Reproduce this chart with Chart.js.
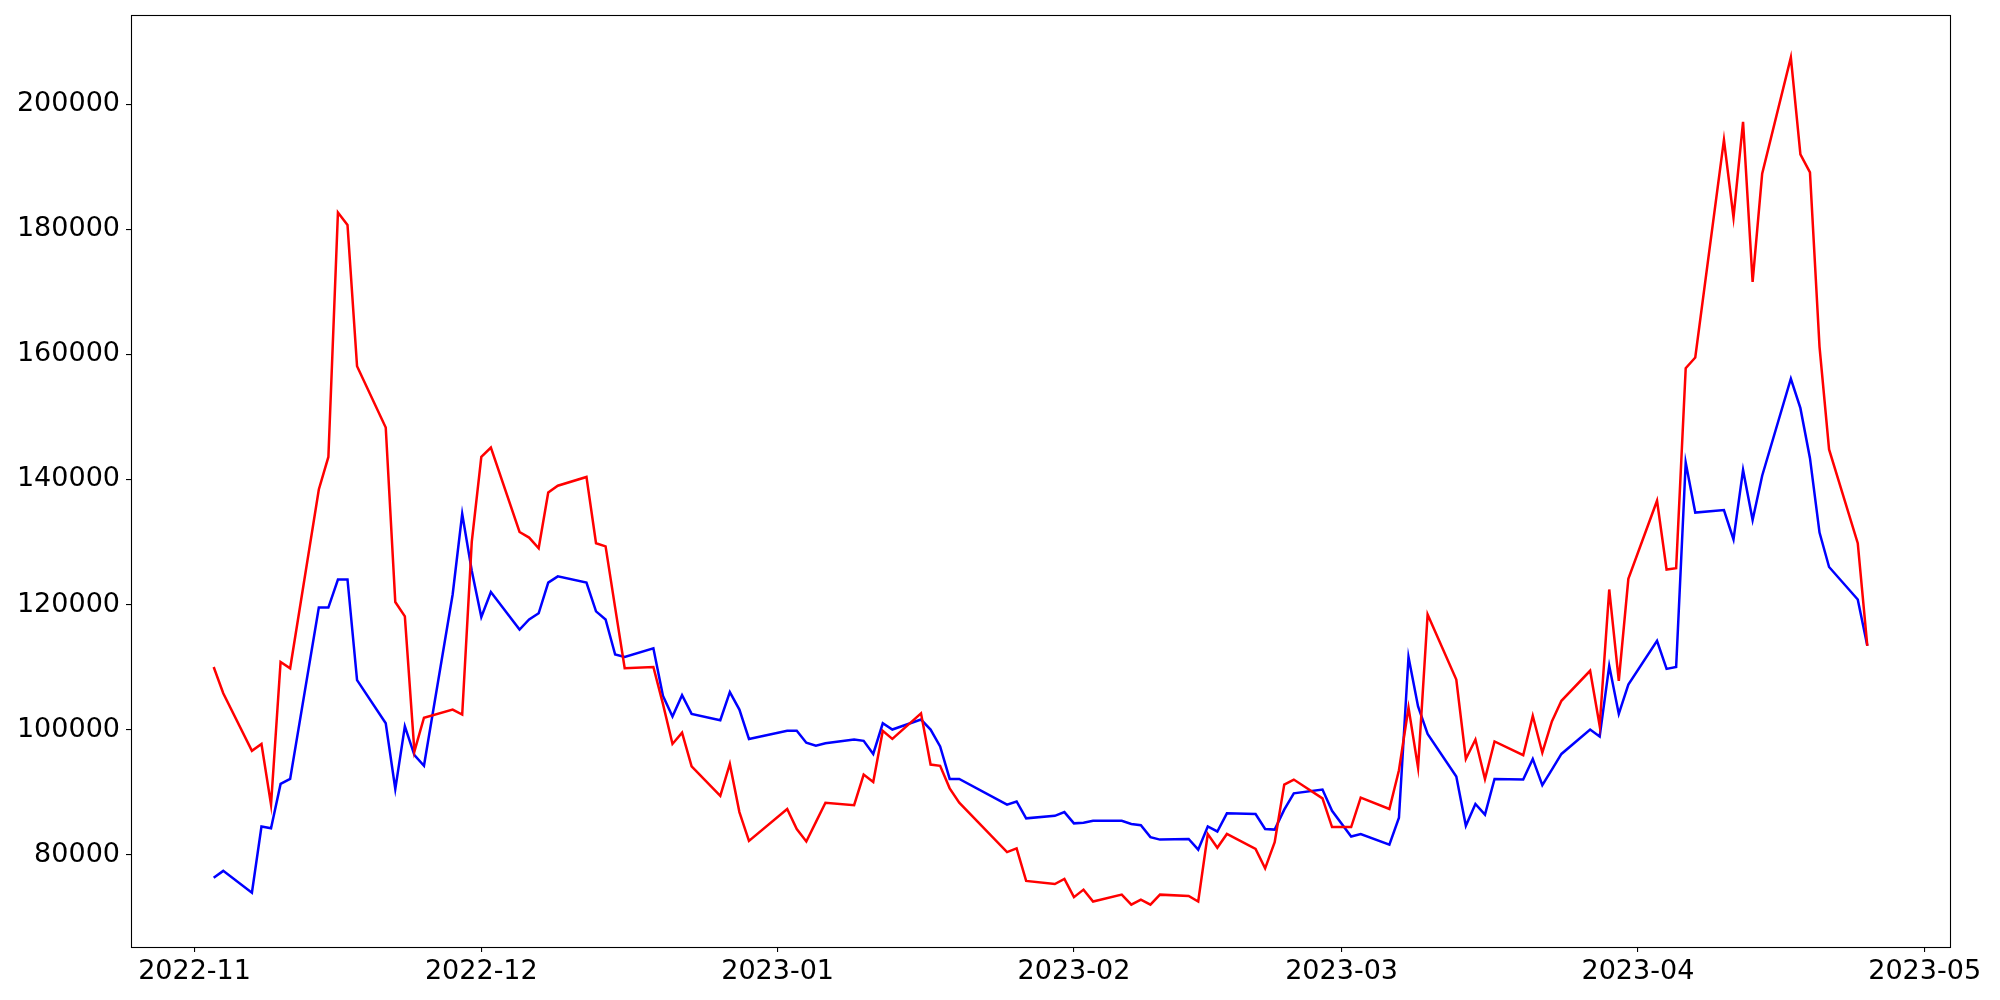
<!DOCTYPE html>
<html>
<head>
<meta charset="utf-8">
<script src="https://cdn.jsdelivr.net/npm/chart.js@4/dist/chart.umd.min.js"></script>
<style>
  html, body { margin: 0; padding: 0; background: #fff; }
  #wrap { width: 2000px; height: 1000px; }
</style>
</head>
<body>
<div id="wrap"><canvas id="chart" width="2000" height="1000"></canvas></div>
<script>
// trading days (KRX), Nov 2022 - Apr 2023
const dates = [
  '2022-11-03','2022-11-04','2022-11-07','2022-11-08','2022-11-09','2022-11-10','2022-11-11',
  '2022-11-14','2022-11-15','2022-11-16','2022-11-17','2022-11-18','2022-11-21','2022-11-22',
  '2022-11-23','2022-11-24','2022-11-25','2022-11-28','2022-11-29','2022-11-30',
  '2022-12-01','2022-12-02','2022-12-05','2022-12-06','2022-12-07','2022-12-08','2022-12-09',
  '2022-12-12','2022-12-13','2022-12-14','2022-12-15','2022-12-16','2022-12-19','2022-12-20',
  '2022-12-21','2022-12-22','2022-12-23','2022-12-26','2022-12-27','2022-12-28','2022-12-29',
  '2023-01-02','2023-01-03','2023-01-04','2023-01-05','2023-01-06','2023-01-09','2023-01-10',
  '2023-01-11','2023-01-12','2023-01-13','2023-01-16','2023-01-17','2023-01-18','2023-01-19',
  '2023-01-20','2023-01-25','2023-01-26','2023-01-27','2023-01-30','2023-01-31',
  '2023-02-01','2023-02-02','2023-02-03','2023-02-06','2023-02-07','2023-02-08','2023-02-09',
  '2023-02-10','2023-02-13','2023-02-14','2023-02-15','2023-02-16','2023-02-17','2023-02-20',
  '2023-02-21','2023-02-22','2023-02-23','2023-02-24','2023-02-27','2023-02-28',
  '2023-03-02','2023-03-03','2023-03-06','2023-03-07','2023-03-08','2023-03-09','2023-03-10',
  '2023-03-13','2023-03-14','2023-03-15','2023-03-16','2023-03-17','2023-03-20','2023-03-21',
  '2023-03-22','2023-03-23','2023-03-24','2023-03-27','2023-03-28','2023-03-29','2023-03-30',
  '2023-03-31',
  '2023-04-03','2023-04-04','2023-04-05','2023-04-06','2023-04-07','2023-04-10','2023-04-11',
  '2023-04-12','2023-04-13','2023-04-14','2023-04-17','2023-04-18','2023-04-19','2023-04-20',
  '2023-04-21','2023-04-24','2023-04-25'
]

const redValues = [
  // Nov
  110000, 105800, 96600, 97700, 88000, 110800, 109800, 138400, 143600, 182700,
  180700, 158100, 148300, 120400, 118100, 96500, 101900, 103200, 102400, 130000,
  // Dec
  143600, 145100, 131600, 130700, 129000, 137900, 139000, 140400, 129800, 129300,
  119500, 109800, 110000, 104100, 97700, 99500, 94100, 89400, 94500, 86800, 82200,
  // Jan
  87300, 84100, 82100, 85200, 88300, 87900, 92800, 91600, 99800, 98500,
  102600, 94400, 94200, 90600, 88300, 80400, 81000, 75800, 75300, 76100,
  // Feb
  73200, 74400, 72500, 73600, 72000, 72800, 72000, 73600, 73400, 72500,
  83300, 81100, 83300, 80900, 77800, 82000, 91200, 92000, 89000, 84400,
  // Mar
  84400, 89100, 87300, 93500, 103500, 93900, 118400, 108000, 95300, 98400, 92100,
  98100, 95900, 102200, 96300, 101300, 104600, 109400, 100600, 122400, 107800, 124100,
  // Apr
  136600, 125600, 125800, 157800, 159500, 194300, 181900, 197200, 171600, 188900,
  207500, 192000, 189100, 161200, 144800, 129800, 113400
]

const blueValues = [
  // Nov
  76300, 77400, 73900, 84500, 84200, 91300, 92100, 119500, 119500, 124000,
  124000, 107900, 101000, 90500, 100500, 95900, 94200, 121600, 134500, 125400,
  // Dec
  118000, 122000, 116000, 117600, 118600, 123500, 124500, 123500, 118900, 117600,
  112000, 111600, 113000, 105400, 102100, 105500, 102500, 101500, 106000, 103200, 98500,
  // Jan
  99800, 99800, 97900, 97400, 97800, 98400, 98200, 96100, 101000, 100000,
  101600, 100000, 97300, 92100, 92100, 88000, 88500, 85800, 86200, 86800,
  // Feb
  85000, 85100, 85400, 85400, 84900, 84700, 82800, 82400, 82500, 80800,
  84500, 83700, 86600, 86500, 84100, 84000, 87200, 89800, 90400, 87000,
  // Mar
  82900, 83300, 81600, 85900, 111600, 103700, 99300, 92500, 84600, 88100, 86400,
  92100, 92000, 95300, 91100, 93600, 96100, 100000, 98900, 110200, 102500, 107200,
  // Apr
  114200, 109700, 110000, 142700, 134700, 135100, 130400, 141500, 133500, 140600,
  156100, 151400, 143400, 131500, 126000, 120800, 113400
]

const xTickLabels = ['2022-11', '2022-12', '2023-01', '2023-02', '2023-03', '2023-04', '2023-05']
const yTickValues = [80000, 100000, 120000, 140000, 160000, 180000, 200000]

// 날짜 -> ms
const toTime = s => Date.parse(s + 'T00:00:00Z')
const xs = dates.map(toTime)
const xTickTimes = xTickLabels.map(m => toTime(m + '-01'))

// matplotlib 식 5% 여백
const xSpan = xs[xs.length - 1] - xs[0]
const xMin = xs[0] - xSpan * 0.05
const xMax = xs[xs.length - 1] + xSpan * 0.05
const allY = redValues.concat(blueValues)
const yLo = Math.min(...allY), yHi = Math.max(...allY)
const yMin = yLo - (yHi - yLo) * 0.05
const yMax = yHi + (yHi - yLo) * 0.05

const fmtMonth = v => {
  const d = new Date(v)
  return d.getUTCFullYear() + '-' + String(d.getUTCMonth() + 1).padStart(2, '0')
}

// 네모 테두리
const frame = {
  id: 'frame',
  afterDraw(chart) {
    const { ctx, chartArea: a } = chart
    ctx.save()
    ctx.strokeStyle = '#000'
    ctx.lineWidth = 1.1
    ctx.strokeRect(Math.round(a.left) + 0.5, Math.round(a.top) + 0.5,
      Math.round(a.right - a.left), Math.round(a.bottom - a.top))
    ctx.restore()
  }
}

const tickFont = { family: 'DejaVu Sans', size: 27 }

new Chart(document.getElementById('chart'), {
  type: 'line',
  data: {
    datasets: [
      {
        data: xs.map((x, i) => ({ x, y: redValues[i] })),
        borderColor: '#ff0000',
        borderWidth: 2.5,
        pointRadius: 0,
        tension: 0,
        fill: false
      },
      {
        data: xs.map((x, i) => ({ x, y: blueValues[i] })),
        borderColor: '#0000ff',
        borderWidth: 2.5,
        pointRadius: 0,
        tension: 0,
        fill: false
      }
    ]
  },
  options: {
    responsive: false,
    animation: false,
    devicePixelRatio: 1,
    layout: { padding: { left: 0, right: 50, top: 15, bottom: 0 } },
    plugins: { legend: { display: false }, tooltip: { enabled: false } },
    scales: {
      x: {
        type: 'linear',
        min: xMin,
        max: xMax,
        border: { display: false },
        grid: { drawOnChartArea: false, drawTicks: true, tickLength: 5, tickColor: '#000', lineWidth: 1.1 },
        ticks: { color: '#000', font: tickFont, padding: 4, maxRotation: 0, autoSkip: false, callback: v => fmtMonth(v) },
        afterBuildTicks: s => { s.ticks = xTickTimes.map(value => ({ value })) },
        afterFit: s => { s.height = 53; s.paddingLeft = 0; s.paddingRight = 0 }
      },
      y: {
        min: yMin,
        max: yMax,
        border: { display: false },
        grid: { drawOnChartArea: false, drawTicks: true, tickLength: 5, tickColor: '#000', lineWidth: 1.1 },
        ticks: { color: '#000', font: tickFont, padding: 6, callback: v => String(v) },
        afterBuildTicks: s => { s.ticks = yTickValues.map(value => ({ value })) },
        afterFit: s => { s.width = 131; s.paddingTop = 0; s.paddingBottom = 0 }
      }
    }
  },
  plugins: [frame]
})
</script>
</body>
</html>
